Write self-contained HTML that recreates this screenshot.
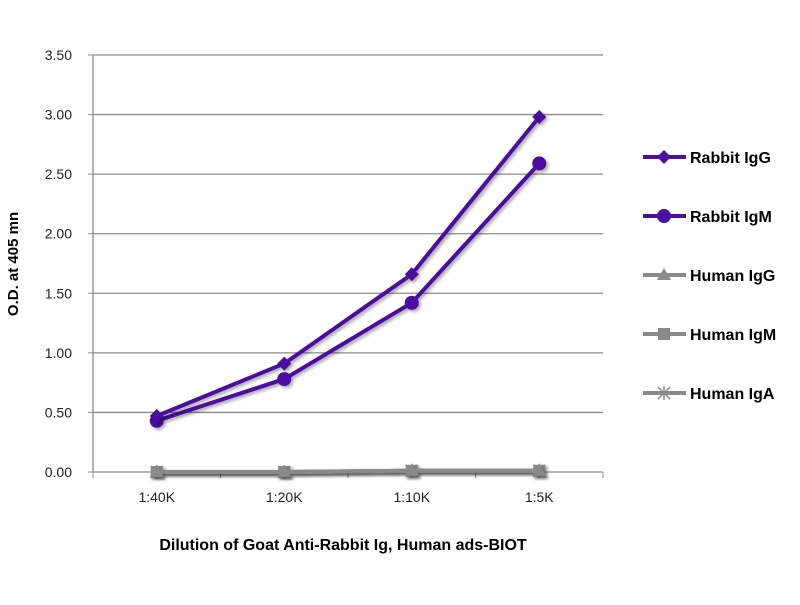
<!DOCTYPE html>
<html><head><meta charset="utf-8"><style>
body{margin:0;background:#fff;width:800px;height:600px;overflow:hidden}
svg text{font-family:"Liberation Sans",sans-serif}
</style></head><body>
<svg id="chart" width="800" height="600" xmlns="http://www.w3.org/2000/svg">
<defs><filter id="sh" x="-10%" y="-10%" width="130%" height="130%"><feDropShadow dx="2" dy="2" stdDeviation="1.5" flood-color="#000" flood-opacity="0.35"/></filter></defs>
<g id="grid"></g>
<g id="axes"></g>
<g id="series"></g>
<g id="legend"></g>
<text transform="translate(18,264) rotate(-90)" text-anchor="middle" font-size="15" font-weight="bold" fill="#000">O.D. at 405 mn</text>
<text x="343" y="550" text-anchor="middle" font-size="16" font-weight="bold" fill="#000">Dilution of Goat Anti-Rabbit Ig, Human ads-BIOT</text>
</svg>
<script>
const categories = ["1:40K","1:20K","1:10K","1:5K"];
const yTicks = [0,0.5,1,1.5,2,2.5,3,3.5];
const yTickLabels = ["0.00","0.50","1.00","1.50","2.00","2.50","3.00","3.50"];
const rabbitIgG = [0.47,0.91,1.66,2.98];
const rabbitIgM = [0.43,0.78,1.42,2.59];
const humanIgG = [0.0,0.0,0.01,0.01];
const humanIgM = [0.0,0.0,0.01,0.01];
const humanIgA = [0.0,0.0,0.01,0.01];
const seriesNames = ["Rabbit IgG","Rabbit IgM","Human IgG","Human IgM","Human IgA"];

const NS="http://www.w3.org/2000/svg";
const X0=93,X1=603,Y0=472,Y1=55,YMAX=3.5;
const band=(X1-X0)/categories.length;
const xs=i=>X0+band*(i+0.5);
const ys=v=>Y0-(v/YMAX)*(Y0-Y1);
function mk(tag,attrs,parent){const e=document.createElementNS(NS,tag);for(const k in attrs)e.setAttribute(k,attrs[k]);parent.appendChild(e);return e;}
const grid=document.getElementById('grid'),axes=document.getElementById('axes'),ser=document.getElementById('series'),leg=document.getElementById('legend');
yTicks.forEach((t,i)=>{
  const y=ys(t);
  if(t>0){const l=mk('line',{x1:X0,x2:X1,y1:y,y2:y,stroke:'#8c8c8c','stroke-width':1.3},grid);
  
  }
  const tx=mk('text',{x:72,y:y+5,'text-anchor':'end','font-size':14,fill:'#222'},axes);tx.textContent=yTickLabels[i];
  
  
  const tk=mk('line',{x1:X0-5,x2:X0,y1:y,y2:y,stroke:'#8c8c8c'},axes);
});
mk('line',{x1:X0,x2:X0,y1:Y1,y2:Y0,stroke:'#8c8c8c','stroke-width':1.3},axes);
mk('line',{x1:X0,x2:X1,y1:Y0,y2:Y0,stroke:'#8c8c8c','stroke-width':1.3},axes);
for(let i=0;i<=categories.length;i++){mk('line',{x1:X0+band*i,x2:X0+band*i,y1:Y0,y2:Y0+6,stroke:'#8c8c8c'},axes);}
categories.forEach((c,i)=>{const t=mk('text',{x:xs(i),y:502,'text-anchor':'middle','font-size':14,fill:'#222'},axes);t.textContent=c;

});
const purple='#4a0fa0',gray='#8a8a8a';
function marker(type,x,y,color,p){
  if(type==='diamond')return mk('polygon',{points:`${x},${y-7} ${x+7},${y} ${x},${y+7} ${x-7},${y}`,fill:color},p);
  if(type==='circle')return mk('circle',{cx:x,cy:y,r:7,fill:color},p);
  if(type==='triangle')return mk('polygon',{points:`${x},${y-7} ${x+7},${y+5} ${x-7},${y+5}`,fill:color},p);
  if(type==='square')return mk('rect',{x:x-6,y:y-6,width:12,height:12,fill:color},p);
  const g=mk('g',{stroke:color,'stroke-width':1.5},p);
  mk('line',{x1:x-6,y1:y-6,x2:x+6,y2:y+6},g);mk('line',{x1:x-6,y1:y+6,x2:x+6,y2:y-6},g);mk('line',{x1:x,y1:y-7,x2:x,y2:y+7},g);return g;
}
const allSeries=[[humanIgA,gray,'star'],[humanIgM,gray,'square'],[humanIgG,gray,'triangle'],[rabbitIgM,purple,'circle'],[rabbitIgG,purple,'diamond']];
const slug=['human-iga','human-igm','human-igg','rabbit-igm','rabbit-igg'];
allSeries.forEach(([vals,col,m],si)=>{
  const g=mk('g',{filter:'url(#sh)'},ser);
  
  
  mk('polyline',{points:vals.map((v,i)=>xs(i)+','+ys(v)).join(' '),fill:'none',stroke:col,'stroke-width':4,'stroke-linejoin':'round'},g);
  vals.forEach((v,i)=>{const mm=marker(m,xs(i),ys(v),col,g);
    
    });
});
const legMarks=['diamond','circle','triangle','square','star'];
seriesNames.forEach((n,i)=>{
  const y=157+i*59,col=i<2?purple:gray;
  const g=mk('g',{},leg);
  
  
  mk('line',{x1:643,x2:686,y1:y,y2:y,stroke:col,'stroke-width':4},g);
  marker(legMarks[i],664,y,col,g);
  const t=mk('text',{x:690,y:y+6,'font-size':16,'font-weight':'bold',fill:'#000'},g);t.textContent=n;
});
</script>
</body></html>
